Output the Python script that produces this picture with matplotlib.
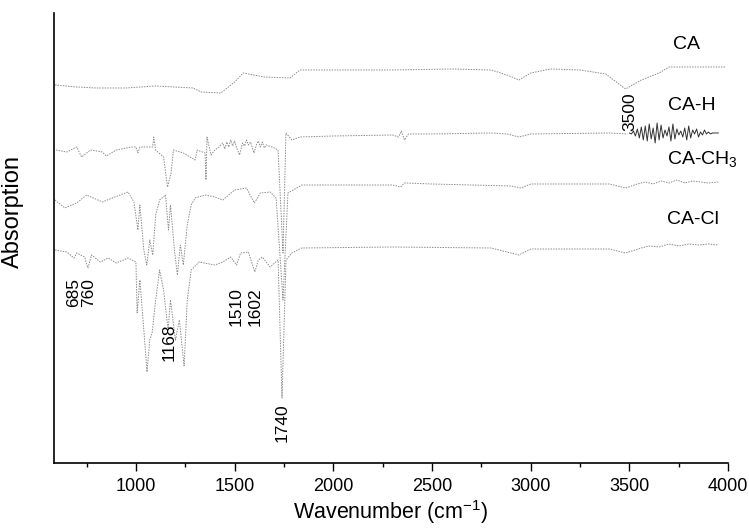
import matplotlib
matplotlib.use("Agg")
import matplotlib.pyplot as plt
from matplotlib.ticker import MultipleLocator

plt.rcParams['font.family'] = ['Liberation Sans', 'DejaVu Sans']

# ---- data (offset absorption, arbitrary units) ----
ca_wn = [590, 700, 800, 950, 1100, 1290, 1330, 1430, 1500, 1543, 1650, 1780, 1831,
         2000, 2300, 2600, 2800, 2880, 2940, 3000, 3100, 3250, 3380, 3480, 3560,
         3650, 3700, 3990]
ca_ab = [378, 376, 375, 375, 377, 375, 371, 370, 381, 390, 386, 385, 393,
         393, 393, 394, 393, 388, 383, 390, 394, 393, 389, 374, 383,
         390, 396, 396]

cah_wn = [595, 650, 700, 725, 770, 830, 850, 900, 980, 1000, 1010, 1020, 1085, 1090,
          1100, 1140, 1160, 1178, 1190, 1240, 1300, 1310, 1350, 1355, 1360, 1380,
          1400, 1420, 1440, 1450, 1460, 1470, 1480, 1490, 1500, 1510, 1525, 1540,
          1550, 1560, 1570, 1580, 1598, 1610, 1620, 1630, 1640, 1650, 1660, 1690,
          1720, 1745, 1760, 1790, 1830, 2000, 2300, 2330, 2345, 2360, 2380, 2500,
          2800, 2880, 2940, 3000, 3400, 3490]
cah_ab = [313, 311, 316, 306, 313, 311, 307, 313, 316, 316, 310, 316, 316, 326,
          313, 306, 276, 290, 313, 310, 303, 313, 310, 283, 326, 308,
          313, 316, 320, 314, 321, 316, 323, 317, 322, 315, 308, 320,
          317, 323, 318, 321, 310, 318, 322, 316, 321, 315, 318, 316,
          313, 210, 330, 323, 326, 327, 328, 326, 332, 323, 329, 329,
          330, 329, 326, 329, 330, 329]

# CA-H high-wavenumber noise (3500-3950 cm-1)
cah_noise_wn = list(range(3500, 3960, 10))
cah_noise_ab = [330, 329, 332, 327, 334, 325, 336, 323, 337, 322, 339, 324, 335, 320,
                340, 323, 338, 325, 333, 327, 336, 322, 339, 324, 334, 328, 332, 326,
                335, 323, 337, 325, 333, 329, 334, 326, 331, 328, 333, 329, 331, 329,
                330, 330, 330, 330]

cach3_wn = [590, 640, 700, 750, 830, 880, 960, 990, 1010, 1020, 1040, 1055, 1070,
            1085, 1100, 1120, 1150, 1165, 1175, 1195, 1210, 1225, 1240, 1260, 1280,
            1300, 1350, 1400, 1440, 1500, 1560, 1600, 1630, 1680, 1710, 1745, 1770,
            1840, 2000, 2300, 2340, 2360, 2500, 2900, 2950, 3000, 3400, 3480, 3540,
            3580, 3620, 3660, 3700, 3740, 3780, 3820, 3860, 3900, 3950]
cach3_ab = [263, 255, 260, 268, 261, 265, 271, 261, 233, 258, 213, 198, 223,
            208, 248, 263, 268, 233, 258, 213, 188, 218, 198, 238, 258,
            265, 268, 266, 263, 273, 275, 260, 270, 271, 265, 163, 270,
            278, 278, 278, 276, 280, 279, 277, 275, 279, 279, 275, 279,
            281, 279, 282, 280, 283, 280, 282, 281, 280, 281]

cacl_wn = [590, 650, 686, 700, 740, 757, 775, 820, 860, 900, 960, 1000, 1006, 1020,
           1040, 1056, 1070, 1082, 1100, 1120, 1140, 1163, 1175, 1200, 1220, 1244,
           1260, 1280, 1320, 1400, 1440, 1480, 1510, 1530, 1570, 1602, 1620, 1640,
           1680, 1720, 1740, 1760, 1790, 1840, 2300, 2800, 2940, 3000, 3400, 3480,
           3560, 3600, 3650, 3700, 3750, 3800, 3850, 3900, 3950]
cacl_ab = [213, 211, 205, 210, 206, 195, 208, 201, 205, 200, 205, 201, 150, 183,
           133, 91, 123, 130, 163, 193, 173, 133, 163, 123, 143, 97,
           163, 193, 201, 198, 201, 206, 198, 210, 211, 191, 203, 206,
           196, 203, 65, 203, 210, 215, 216, 215, 208, 214, 214, 210,
           215, 217, 216, 219, 217, 219, 218, 219, 218]

series_labels = ['CA', 'CA-H', r'CA-CH$_\mathregular{3}$', 'CA-Cl']
label_wn = [3721, 3696, 3691, 3691]
label_ab = [418, 357, 303, 243]

peak_labels = ['685', '760', '1168', '1510', '1602', '1740', '3500']
peak_wn = [685, 760, 1168, 1510, 1602, 1740, 3500]
peak_ab = [170, 170, 121, 156, 156, 40, 351]

xticks = [1000, 1500, 2000, 2500, 3000, 3500, 4000]

# ---- figure ----
fig = plt.figure(figsize=(7.49, 5.30), dpi=100)
ax = fig.add_axes([0.0721, 0.1264, 0.9001, 0.8491])

style = dict(color='#8c8c8c', lw=0.7, ls=(0, (1.5, 1.2)))
ax.plot(ca_wn, ca_ab, **style)
ax.plot(cah_wn, cah_ab, **style)
ax.plot(cah_noise_wn, cah_noise_ab, color='#333333', lw=0.7)
ax.plot(cach3_wn, cach3_ab, **style)
ax.plot(cacl_wn, cacl_ab, **style)

for t, x, y in zip(series_labels, label_wn, label_ab):
    ax.text(x, y, t, fontsize=14, ha='left', va='center')
for t, x, y in zip(peak_labels, peak_wn, peak_ab):
    ax.text(x, y, t, fontsize=12.5, rotation=90, ha='center', va='center')

ax.set_xlim(585, 4000)
ax.set_ylim(0, 450)
ax.set_xticks(xticks)
ax.xaxis.set_minor_locator(MultipleLocator(250))
ax.tick_params(axis='x', which='major', direction='out', length=6, width=1,
               labelsize=13, pad=5)
ax.tick_params(axis='x', which='minor', direction='out', length=3, width=1)
ax.set_yticks([])
for s in ['top', 'right']:
    ax.spines[s].set_visible(False)
ax.spines['left'].set_linewidth(1.2)
ax.spines['bottom'].set_linewidth(1.2)

ax.set_xlabel(r'Wavenumber (cm$^{\mathregular{-1}}$)', fontsize=15.5, labelpad=2)
ax.set_ylabel('Absorption', fontsize=17)
ax.yaxis.set_label_coords(-0.045, 0.558)

fig.savefig('out.png', dpi=100)
